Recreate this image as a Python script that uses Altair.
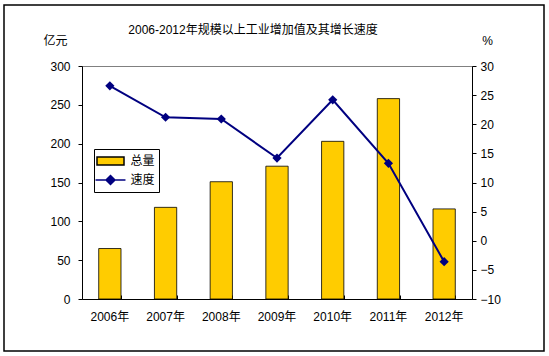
import altair as alt
import pandas as pd

years = ["2006年", "2007年", "2008年", "2009年", "2010年", "2011年", "2012年"]
total = [65, 118, 151, 171, 203, 258, 116]
speed = [26.6, 21.2, 20.9, 14.2, 24.2, 13.3, -3.6]
series_names = ["总量", "速度"]

df = pd.DataFrame({"year": years, "total": total, "speed": speed})
leg_df = pd.DataFrame({"s": series_names})
frame_df = pd.DataFrame({"k": [0]})

FONT = "Liberation Sans, Arial, Noto Sans CJK SC"
W, H = 390, 233

xscale = alt.Scale(domain=years, paddingInner=0.6, paddingOuter=0.3)

bars = alt.Chart(df).mark_bar(color="#FFCC00", stroke="#000000", strokeWidth=0.8).encode(
    x=alt.X("year:N", scale=xscale, sort=None,
            axis=alt.Axis(title=None, orient="bottom", ticks=False, domainColor="#000000",
                          labelPadding=12, labelAngle=0, labelFontSize=12, labelFont=FONT,
                          labelColor="#000000")),
    y=alt.Y("total:Q", scale=alt.Scale(domain=[0, 300]),
            axis=alt.Axis(title="亿元", values=[0, 50, 100, 150, 200, 250, 300], orient="left",
                          grid=False, tickSize=4, tickColor="#000000", domainColor="#000000",
                          labelPadding=8, labelFontSize=12, labelFont=FONT, labelColor="#000000",
                          titleAngle=0, titleX=-27, titleY=-26, titleAlign="center",
                          titleBaseline="middle", titleFontWeight="normal", titleFontSize=12,
                          titleFont=FONT, titleColor="#000000")),
)

# inner bottom ticks at category boundaries (top-oriented axis moved to the bottom)
ticks_axis = alt.Chart(df).mark_bar(opacity=0).encode(
    x=alt.X("year:N", scale=xscale, sort=None,
            axis=alt.Axis(title=None, orient="top", offset=-H, labels=False, domain=False,
                          tickBand="extent", tickSize=4, tickColor="#000000")),
    y=alt.Y("total:Q", scale=alt.Scale(domain=[0, 300]), axis=None),
)

line = alt.Chart(df).mark_line(color="#000080", strokeWidth=2).encode(
    x=alt.X("year:N", scale=xscale, sort=None, axis=None),
    y=alt.Y("speed:Q", scale=alt.Scale(domain=[-10, 30]),
            axis=alt.Axis(title="%", values=[-10, -5, 0, 5, 10, 15, 20, 25, 30], orient="right",
                          grid=False, tickSize=4, tickColor="#000000", domainColor="#000000",
                          labelPadding=4, labelFontSize=12, labelFont=FONT, labelColor="#000000",
                          titleAngle=0, titleX=15, titleY=-26, titleAlign="center",
                          titleBaseline="middle", titleFontWeight="normal", titleFontSize=12,
                          titleFont=FONT, titleColor="#000000")),
)
points = alt.Chart(df).mark_point(shape="diamond", filled=True, color="#000080", size=85, opacity=1).encode(
    x=alt.X("year:N", scale=xscale, sort=None, axis=None),
    y=alt.Y("speed:Q", scale=alt.Scale(domain=[-10, 30]), axis=None),
)

rect_path = "M-1.93,-0.57H1.93V0.57H-1.93Z"
line_path = "M-2.14,0H2.14M0,-0.64L0.64,0L0,0.64L-0.64,0Z"

leg_common = dict(title=None, orient="none", legendX=12, legendY=83,
                  strokeColor="#000000", fillColor="#FFFFFF", padding=4,
                  symbolSize=196, symbolOffset=4.5, labelOffset=12,
                  symbolOpacity=1, symbolStrokeWidth=1.5, rowPadding=4,
                  symbolFillColor="#FFCC00",
                  labelFontSize=12, labelFont=FONT, labelColor="#000000")

legend_layer = alt.Chart(leg_df).mark_point(filled=True, opacity=0).encode(
    x=alt.value(0),
    y=alt.value(0),
    color=alt.Color("s:N", scale=alt.Scale(domain=series_names, range=["#FFCC00", "#000080"]),
                    legend=alt.Legend(**leg_common)),
    stroke=alt.Stroke("s:N", scale=alt.Scale(domain=series_names, range=["#000000", "#000080"]),
                      legend=alt.Legend(**leg_common)),
    shape=alt.Shape("s:N", scale=alt.Scale(domain=series_names, range=[rect_path, line_path]),
                    legend=alt.Legend(**leg_common)),
)

# outer chart frame
frame = alt.Chart(frame_df).mark_rect(filled=False, stroke="#000000", strokeWidth=1.5).encode(
    x=alt.value(-78), x2=alt.value(462), y=alt.value(-61), y2=alt.value(285)
)

chart = alt.layer(frame, bars, ticks_axis, line, points, legend_layer).resolve_scale(
    y="independent", x="shared"
).resolve_axis(x="independent").properties(
    width=W, height=H,
    autosize=alt.AutoSizeParams(type="none"),
    padding={"left": 82, "top": 66, "right": 77, "bottom": 57},
    title=alt.TitleParams("2006-2012年规模以上工业增加值及其增长速度", fontSize=12,
                          fontWeight="normal", font=FONT, color="#000000",
                          anchor="middle", dx=-24, offset=-33),
    background="#FFFFFF",
).configure_view(stroke="#808080", strokeWidth=1)

chart.save("out.html", embed_options={"renderer": "svg", "actions": False})
